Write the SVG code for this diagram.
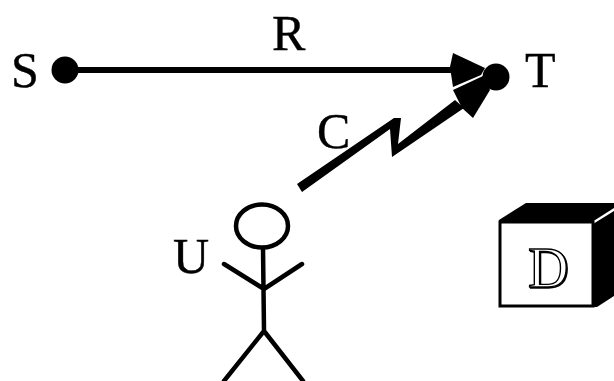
<svg xmlns="http://www.w3.org/2000/svg" width="614" height="381" viewBox="0 0 614 381">
<style>
text{font-family:"Liberation Serif","Times New Roman",serif;font-size:50px;fill:#000;stroke:#000;stroke-width:.4}
.stick{fill:none;stroke:#000;stroke-width:4.5;stroke-linecap:round}
</style>
<rect width="614" height="381" fill="#fff"/>
<g id="connectors">
<path d="M65 70H455" stroke="#000" stroke-width="6" fill="none"/>
<polygon points="453,53 485,68 481,75 453,87 450,67" fill="#000"/>
<polygon points="297,184 394,118 401,118 398,144 455,100 464,108 392,157 390,129 302,192" fill="#000"/>
<polygon points="453,90 483,76 490,90 473,118 462,108" fill="#000"/>
</g>
<g id="node-S"><circle cx="65" cy="70" r="13.5" fill="#000"/><text x="11" y="87">S</text></g>
<g id="node-T"><circle cx="496" cy="77" r="13.5" fill="#000"/><text x="525" y="87">T</text></g>
<g id="label-R"><text x="272" y="50">R</text></g>
<g id="label-C"><text x="317" y="148">C</text></g>
<g id="node-U">
<text x="173" y="273">U</text>
<ellipse cx="262" cy="226" rx="26" ry="21.5" fill="none" stroke="#000" stroke-width="4.5"/>
<path class="stick" d="M263 248L264 330M224 264L264 289L302 264M264 331L224 381M264 331L303 381"/>
</g>
<g id="node-D">
<polygon points="499,220 526,203 614,203 614,208 592,222 499,222" fill="#000"/>
<polygon points="593,224 614,211 614,296 597,307 593,307" fill="#000"/>
<rect x="500" y="222" width="93" height="84" fill="#fff" stroke="#000" stroke-width="3"/>
<text x="528" y="287" style="font-size:56px;fill:#fff;stroke:#000;stroke-width:1.4;filter:drop-shadow(1.5px 1px 0 #000)">D</text>
</g>
</svg>
